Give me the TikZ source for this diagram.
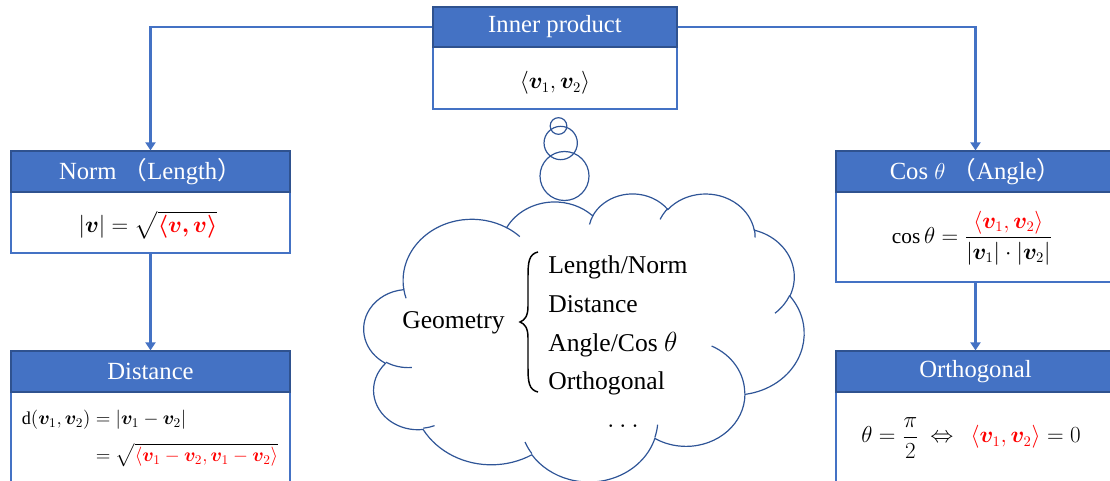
\documentclass[tikz,border=0pt]{standalone}
\usepackage{amsmath,bm}
\usepackage{fontspec}
\setmainfont{Liberation Serif}
\newfontfamily\cjk{Noto Sans CJK SC}
\usetikzlibrary{arrows.meta}

\definecolor{hdrblue}{HTML}{4472C4}
\definecolor{hdredge}{HTML}{2F528F}
\definecolor{cloudblue}{HTML}{2F5597}

% Elliptic arc given by radii and visual start/sweep angles, turned into
% a TikZ arc style using parametric angles.
\newcommand\cldprep[5]{%
  \pgfmathsetmacro\cldts{atan2((#2)*sin(#4),(#3)*cos(#4))}%
  \pgfmathsetmacro\cldte{atan2((#2)*sin((#4)+(#5)),(#3)*cos((#4)+(#5)))}%
  \pgfmathsetmacro\cldte{\cldte+360*and(#5>0,\cldte<\cldts)-360*and(#5<0,\cldte>\cldts)}%
  \edef\cldtmp{\noexpand\tikzset{#1/.style={start angle=\cldts,end angle=\cldte,x radius=#2,y radius=#3}}}%
  \cldtmp}

\tikzset{
  hdr/.style={draw=hdredge, fill=hdrblue, line width=0.9pt, text=white,
    font=\fontsize{18.5}{22}\selectfont, inner sep=0pt},
  bodybox/.style={draw=hdrblue, line width=0.8pt, fill=white, inner sep=0pt},
  link/.style={draw=hdrblue, line width=1.9pt, -{Triangle[width=7.5pt,length=6pt]}},
  formula/.style={inner sep=0pt, font=\fontsize{16}{19}\selectfont},
  cloudline/.style={draw=cloudblue, line width=0.9pt},
  cloudtext/.style={inner sep=0pt, font=\fontsize{19.2}{23}\selectfont},
}

\begin{document}
\begin{tikzpicture}[x=0.75pt, y=-0.75pt]
\useasboundingbox (0,0) rectangle (1110,481);
\clip (0,0) rectangle (1110,481);

% ---------- boxes ----------
\node[bodybox, minimum width=183pt, minimum height=46.5pt] (ipbody) at (555,78) {};
\node[hdr, minimum width=183pt, minimum height=30pt] (iphead) at (555,27) {Inner product};
\node[formula] (ipform) at (555,83) {$\langle \bm{v}_1,\bm{v}_2\rangle$};

\node[bodybox, minimum width=209.25pt, minimum height=45.75pt] (normbody) at (150.5,222.5) {};
\node[hdr, minimum width=209.25pt, minimum height=30.75pt] (normhead) at (150.5,171.5)
  {Norm {\cjk （}Length{\cjk ）}};
\node[formula] (normform) at (148,225)
  {$|\bm{v}| = \sqrt{\color{red}\bm{\langle v, v\rangle}}$};

\node[bodybox, minimum width=209.25pt, minimum height=81pt] (distbody) at (150.5,446) {};
\node[hdr, minimum width=209.25pt, minimum height=30.75pt] (disthead) at (150.5,371.5) {Distance};
\node[formula, font=\fontsize{13.6}{16}\selectfont] (distform) at (150,439)
  {$\begin{aligned}
     \mathrm{d}(\bm{v}_1,\bm{v}_2) &= |\bm{v}_1-\bm{v}_2|\\[5pt]
     &= \sqrt{\color{red}\langle \bm{v}_1-\bm{v}_2,\bm{v}_1-\bm{v}_2\rangle}
   \end{aligned}$};

\node[bodybox, minimum width=209.25pt, minimum height=67.5pt] (cosbody) at (975.5,237) {};
\node[hdr, minimum width=209.25pt, minimum height=30.75pt] (coshead) at (975.5,171.5)
  {Cos $\theta$ {\cjk （}Angle{\cjk ）}};
\node[formula] (cosform) at (972,238)
  {$\cos\theta = \dfrac{\color{red}\langle\bm{v}_1,\bm{v}_2\rangle}{|\bm{v}_1|\cdot|\bm{v}_2|}$};

\node[bodybox, minimum width=209.25pt, minimum height=81pt] (orthbody) at (975.5,446) {};
\node[hdr, minimum width=209.25pt, minimum height=30.75pt] (orthhead) at (975.5,371.5) {Orthogonal};
\node[formula] (orthform) at (971,438)
  {$\theta = \dfrac{\pi}{2}\ \Leftrightarrow\ \ {\color{red}\langle\bm{v}_1,\bm{v}_2\rangle} = 0$};

% ---------- connectors ----------
\draw[link] (iphead.west) -| (normhead.north);
\draw[link] (iphead.east) -| (coshead.north);
\draw[link] (normbody.south) -- (disthead.north);
\draw[link] (cosbody.south) -- (orthhead.north);

% ---------- thought bubbles ----------
\node[circle, cloudline, minimum size=36.75pt, inner sep=0pt] (bubbleC) at (564.5,176) {};
\node[circle, cloudline, minimum size=25pt, inner sep=0pt] (bubbleB) at (560.7,143) {};
\node[circle, cloudline, minimum size=12.5pt, inner sep=0pt] (bubbleA) at (558.5,126) {};

% ---------- cloud outline ----------
\cldprep{cA}{6.753}{9.190}{-190.4875}{123.7805}
\cldprep{cB}{5.333}{7.267}{-144.1024}{89.9452}
\cldprep{cC}{4.365}{5.945}{-145.8079}{99.7230}
\cldprep{cD}{4.857}{6.595}{-130.9861}{117.2417}
\cldprep{cE}{5.333}{7.273}{-78.7089}{109.0269}
\cldprep{cF}{6.775}{9.220}{-46.2673}{130.2690}
\cldprep{cG}{5.785}{7.867}{0.6250}{114.0333}
\cldprep{cH}{6.752}{9.215}{22.4516}{115.1726}
\cldprep{cI}{7.720}{10.543}{66.2426}{75.7110}
\cldprep{cJ}{4.360}{5.918}{-274.9421}{146.7356}
\cldprep{cK}{4.345}{5.945}{-246.8285}{152.5189}
\cldprep{hA}{4.345}{5.945}{86.7420}{26.4295}
\cldprep{hB}{4.360}{5.918}{73.6105}{11.4475}
\cldprep{hC}{6.752}{9.215}{137.6242}{14.0811}
\cldprep{hD}{6.752}{9.215}{6.4533}{15.9984}
\cldprep{hE}{5.785}{7.867}{-70.2924}{70.9174}
\cldprep{hF}{5.333}{7.273}{30.3180}{27.7515}
\cldprep{hG}{4.857}{6.595}{-13.7443}{14.8589}
\cldprep{hH}{4.857}{6.595}{-149.1815}{18.1954}
\cldprep{hI}{4.365}{5.945}{-163.4943}{17.6864}
\cldprep{hJ}{6.753}{9.190}{-66.7070}{12.3194}
\cldprep{hK}{6.753}{9.190}{157.6544}{11.8582}
\begin{scope}[shift={(364,193)}, x=7.6389pt, y=-5pt]
  \draw[cloudline] (3.900,14.370) arc[cA] arc[cB] arc[cC] arc[cD] arc[cE] arc[cF]
    arc[cG] arc[cH] arc[cI] arc[cJ] arc[cK] -- cycle;
  \draw[cloudline]
    (4.693,26.177) arc[hA]  (6.928,34.899) arc[hB]  (16.478,39.090) arc[hC]
    (28.827,34.751) arc[hD] (34.129,22.954) arc[hE] (41.798,15.354) arc[hF]
    (38.324,5.426) arc[hG]  (29.078,3.952) arc[hH]  (22.141,4.720) arc[hI]
    (14.000,5.192) arc[hJ]  (4.127,15.789) arc[hK];
\end{scope}

% ---------- cloud content ----------
\node[cloudtext, anchor=base west] (geo) at (402,328) {Geometry};
\draw[line width=1.1pt] (538,252) .. controls (529,254) and (528,262) .. (528,276)
  -- (528,306) .. controls (528,316) and (525,320) .. (520,322)
  .. controls (525,324) and (528,328) .. (528,338)
  -- (528,368) .. controls (528,382) and (529,390) .. (538,392);
\node[cloudtext, anchor=base west] (itA) at (548,273) {Length/Norm};
\node[cloudtext, anchor=base west] (itB) at (548,312) {Distance};
\node[cloudtext, anchor=base west] (itC) at (548,351) {Angle/Cos $\theta$};
\node[cloudtext, anchor=base west] (itD) at (548,389) {Orthogonal};
\node[cloudtext, anchor=base] (itE) at (623,427) {$\ldots$};
\end{tikzpicture}
\end{document}
